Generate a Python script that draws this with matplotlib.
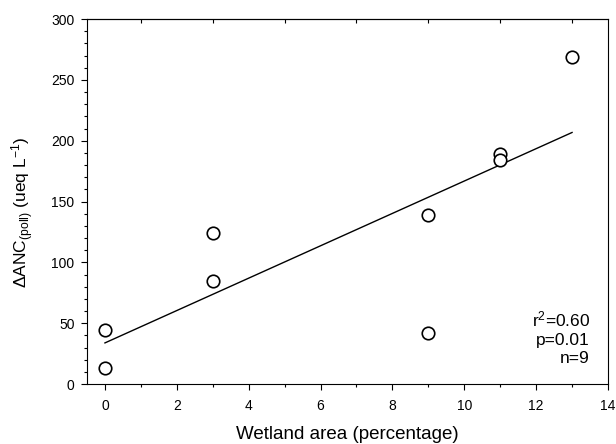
import numpy as np
import matplotlib
matplotlib.use('Agg')
import matplotlib.pyplot as plt
from matplotlib.ticker import MultipleLocator, FixedLocator

'''Data read from the figure'''
wetland_pct = [0, 0, 3, 3, 9, 9, 11, 11, 13]  # wetland area (%)
anc_poll = [44, 13, 124, 85, 139, 42, 189, 184, 269]  # delta ANC (ueq/L)
stats_text = 'r$^2$=0.60\np=0.01\nn=9'

plt.rcParams['font.family'] = ['Liberation Sans', 'DejaVu Sans']
plt.rcParams['mathtext.fontset'] = 'custom'
plt.rcParams['mathtext.rm'] = 'Liberation Sans'
plt.rcParams['mathtext.it'] = 'Liberation Sans'

fig = plt.figure(figsize=(6.16, 4.44), dpi=100)
ax = fig.add_axes([0.1412, 0.1351, 0.8458, 0.8221])

# regression line fitted to the points
slope, icpt = np.polyfit(wetland_pct, anc_poll, 1)
xl = np.array([min(wetland_pct), max(wetland_pct)])
ax.plot(xl, slope * xl + icpt, color='black', lw=1.0)

ax.plot(wetland_pct, anc_poll, linestyle='none', marker='o', markersize=9,
        markerfacecolor='white', markeredgecolor='black', markeredgewidth=1.2)

ax.set_xlim(-0.5, 14)
ax.set_ylim(0, 300)
ax.xaxis.set_major_locator(MultipleLocator(2))
ax.xaxis.set_minor_locator(MultipleLocator(1))
ax.yaxis.set_major_locator(MultipleLocator(50))
ax.yaxis.set_minor_locator(MultipleLocator(10))
ax.tick_params(which='major', direction='out', length=4, width=0.8, labelsize=10)
ax.tick_params(axis='x', which='major', pad=7)
ax.tick_params(axis='y', which='major', pad=5)
ax.tick_params(which='minor', direction='out', length=2.5, width=0.8)
ax.tick_params(axis='y', which='both', right=False)

# ticks on the top spine at odd values, pointing inward
top = ax.secondary_xaxis('top')
top.xaxis.set_major_locator(FixedLocator([1, 3, 5, 7, 9, 11, 13]))
top.tick_params(direction='in', length=3, width=0.8, labeltop=False)

for s in ax.spines.values():
    s.set_linewidth(0.8)
for s in top.spines.values():
    s.set_linewidth(0.8)

ax.set_xlabel('Wetland area (percentage)', fontsize=13.5, labelpad=9)
ax.set_ylabel(r'$\Delta$ANC$_{\rm (poll)}$ (ueq L$^{-1}$)', fontsize=12.5)
ax.yaxis.set_label_coords(-0.097, 0.471)

ax.text(13.5, 38, stats_text, ha='right', va='center', fontsize=12.5, linespacing=1.25)

plt.savefig('out.png', dpi=100)
